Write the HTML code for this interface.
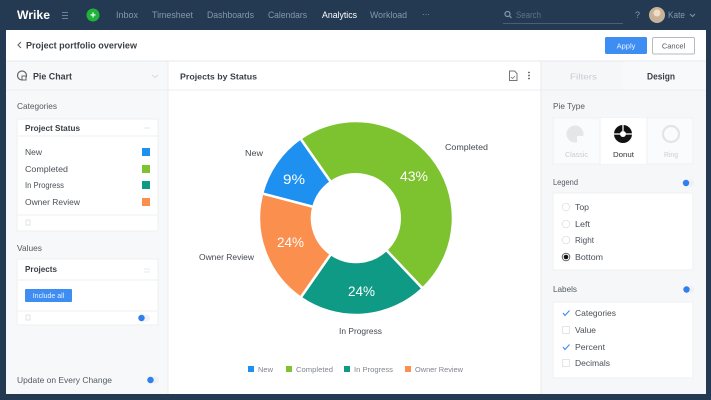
<!DOCTYPE html>
<html><head><meta charset="utf-8"><style>
html,body{margin:0;padding:0;background:#243a52;}
svg{display:block;font-family:"Liberation Sans",sans-serif;}
</style></head><body>
<svg width="711" height="400" viewBox="0 0 711 400" xmlns="http://www.w3.org/2000/svg">
<rect x="0" y="0" width="711" height="400" fill="#243a52"/>
<!-- nav -->
<text x="17" y="19" font-size="11.5" font-weight="bold" fill="#ffffff" textLength="33" lengthAdjust="spacingAndGlyphs">Wrike</text>
<g stroke="#6f8299" stroke-width="1"><line x1="62" y1="12.5" x2="68" y2="12.5"/><line x1="62" y1="15.5" x2="68" y2="15.5"/><line x1="62" y1="18.5" x2="68" y2="18.5"/></g>
<circle cx="93" cy="15" r="6.5" fill="#1fb33a"/>
<text x="93" y="18.5" font-size="10" font-weight="bold" fill="#fff" text-anchor="middle">+</text>
<g font-size="9" fill="#8597ad">
<text x="116" y="18" textLength="22" lengthAdjust="spacingAndGlyphs">Inbox</text>
<text x="152" y="18" textLength="41" lengthAdjust="spacingAndGlyphs">Timesheet</text>
<text x="207" y="18" textLength="47" lengthAdjust="spacingAndGlyphs">Dashboards</text>
<text x="268" y="18" textLength="39" lengthAdjust="spacingAndGlyphs">Calendars</text>
<text x="322" y="18" textLength="35" lengthAdjust="spacingAndGlyphs" fill="#ffffff">Analytics</text>
<text x="370" y="18" textLength="37" lengthAdjust="spacingAndGlyphs">Workload</text>
<text x="422" y="17" textLength="8" lengthAdjust="spacingAndGlyphs">···</text>
<text x="516" y="18" textLength="25" lengthAdjust="spacingAndGlyphs" fill="#5f738b">Search</text>
<text x="635" y="18" fill="#8597ad">?</text>
<text x="668" y="18" textLength="17" lengthAdjust="spacingAndGlyphs">Kate</text>
</g>
<circle cx="507.5" cy="14" r="2.5" fill="none" stroke="#8597ad" stroke-width="1.2"/>
<line x1="509.5" y1="16" x2="511.5" y2="18" stroke="#8597ad" stroke-width="1.2"/>
<line x1="503" y1="23.5" x2="623" y2="23.5" stroke="#4b5f77" stroke-width="1"/>
<circle cx="657" cy="15" r="8" fill="#c9b29a"/>
<circle cx="657" cy="13" r="3.5" fill="#f1dcc8"/>
<path d="M690 14 l2.5 2.5 l2.5 -2.5" fill="none" stroke="#8597ad" stroke-width="1"/>

<!-- main card -->
<rect x="6" y="30" width="700" height="364" fill="#ffffff"/>
<!-- left panel bg -->
<rect x="6" y="61" width="162" height="333" fill="#f6f8fa"/>
<!-- right panel bg -->
<rect x="541" y="61" width="165" height="333" fill="#f5f7f9"/>
<rect x="623" y="61" width="83" height="29" fill="#f8f9fb"/>
<line x1="6" y1="61" x2="706" y2="61" stroke="#e7eaed" stroke-width="1"/>
<line x1="6" y1="90" x2="706" y2="90" stroke="#eceef1" stroke-width="1"/>
<line x1="168" y1="61" x2="168" y2="394" stroke="#eceef1" stroke-width="1"/>
<line x1="541" y1="61" x2="541" y2="394" stroke="#e7eaed" stroke-width="1"/>

<!-- header -->
<path d="M21 42 l-3 3 l3 3" fill="none" stroke="#666" stroke-width="1.1"/>
<text x="26" y="48.5" font-size="9.5" font-weight="bold" fill="#3a3f45" textLength="111" lengthAdjust="spacingAndGlyphs">Project portfolio overview</text>
<rect x="605" y="37" width="42" height="17" rx="1.5" fill="#3e8df3"/>
<text x="626" y="48.5" font-size="7.5" fill="#e8f1ff" text-anchor="middle">Apply</text>
<rect x="652.5" y="37.5" width="42" height="16.5" rx="1.5" fill="#fff" stroke="#b5bbc2" stroke-width="1"/>
<text x="673.5" y="48.5" font-size="7.5" fill="#555" text-anchor="middle">Cancel</text>

<!-- second header -->
<circle cx="22" cy="75.5" r="4.5" fill="none" stroke="#666" stroke-width="1.2"/>
<rect x="22" y="76" width="4" height="4" fill="#f6f8fa" stroke="#666" stroke-width="1"/>
<text x="33" y="79.5" font-size="9.5" font-weight="bold" fill="#3a3f45" textLength="39" lengthAdjust="spacingAndGlyphs">Pie Chart</text>
<path d="M152 75 l3 2.5 l3 -2.5" fill="none" stroke="#d5d9dd" stroke-width="1"/>
<text x="180" y="79.5" font-size="8.5" font-weight="bold" fill="#3a3f45" textLength="77" lengthAdjust="spacingAndGlyphs">Projects by Status</text>
<path d="M509.5 71 h5 l2.5 2.5 v7 h-7.5 z" fill="none" stroke="#777" stroke-width="1"/>
<path d="M511 77 l1.5 1.5 l2.5 -2.5" fill="none" stroke="#777" stroke-width="0.8"/>
<g fill="#555"><circle cx="529" cy="72.5" r="0.9"/><circle cx="529" cy="75.5" r="0.9"/><circle cx="529" cy="78.5" r="0.9"/></g>
<text x="570" y="79.5" font-size="8.5" fill="#c8cdd3" textLength="27" lengthAdjust="spacingAndGlyphs">Filters</text>
<text x="647" y="79.5" font-size="9" font-weight="bold" fill="#3a3f45" textLength="28" lengthAdjust="spacingAndGlyphs">Design</text>

<!-- left panel -->
<g font-size="8.5" fill="#555b62">
<text x="17" y="109" textLength="40" lengthAdjust="spacingAndGlyphs">Categories</text>
<text x="17" y="251" textLength="25" lengthAdjust="spacingAndGlyphs">Values</text>
<text x="17" y="383" textLength="95" lengthAdjust="spacingAndGlyphs">Update on Every Change</text>
</g>
<rect x="17" y="119" width="141" height="112" fill="#ffffff" stroke="#eef0f2" stroke-width="1"/>
<line x1="17" y1="136" x2="158" y2="136" stroke="#eef0f2"/>
<line x1="17" y1="215" x2="158" y2="215" stroke="#eef0f2"/>
<text x="25" y="131" font-size="8.5" font-weight="bold" fill="#3a3f45" textLength="55" lengthAdjust="spacingAndGlyphs">Project Status</text>
<path d="M144 128 h6" stroke="#e3e6e9" stroke-width="1"/>
<g font-size="8.5" fill="#4a5057">
<text x="25" y="155" textLength="17" lengthAdjust="spacingAndGlyphs">New</text>
<text x="25" y="172" textLength="43" lengthAdjust="spacingAndGlyphs">Completed</text>
<text x="25" y="188" textLength="39" lengthAdjust="spacingAndGlyphs">In Progress</text>
<text x="25" y="205" textLength="55" lengthAdjust="spacingAndGlyphs">Owner Review</text>
</g>
<rect x="142" y="148" width="8" height="8" fill="#1e90f0"/>
<rect x="142" y="165" width="8" height="8" fill="#7dc32f"/>
<rect x="142" y="181" width="8" height="8" fill="#0e9a84"/>
<rect x="142" y="198" width="8" height="8" fill="#fb8f4e"/>
<rect x="26" y="220" width="4" height="5" fill="none" stroke="#ddd" stroke-width="0.8"/>

<rect x="17" y="259" width="141" height="66" fill="#ffffff" stroke="#eef0f2" stroke-width="1"/>
<line x1="17" y1="280" x2="158" y2="280" stroke="#eef0f2"/>
<line x1="17" y1="311" x2="158" y2="311" stroke="#eef0f2"/>
<text x="25" y="272" font-size="8.5" font-weight="bold" fill="#3a3f45" textLength="32" lengthAdjust="spacingAndGlyphs">Projects</text>
<path d="M144 269 h6 M144 272 h6" stroke="#e6e8eb" stroke-width="1"/>
<rect x="25" y="289" width="47" height="13" rx="1" fill="#3e8df3"/>
<text x="48.5" y="298" font-size="7" fill="#e8f1ff" text-anchor="middle">Include all</text>
<rect x="26" y="315" width="4" height="5" fill="none" stroke="#ddd" stroke-width="0.8"/>
<rect x="138" y="314.5" width="12" height="7" rx="3.5" fill="#f0f2f4"/>
<circle cx="141.5" cy="318" r="3.2" fill="#2f7ff0"/>
<rect x="147" y="376.5" width="12" height="7" rx="3.5" fill="#eef0f2"/>
<circle cx="150.5" cy="380" r="3.2" fill="#2f7ff0"/>

<!-- right panel -->
<g font-size="8.5" fill="#555b62">
<text x="553" y="109" textLength="32" lengthAdjust="spacingAndGlyphs">Pie Type</text>
<text x="553" y="185" textLength="25" lengthAdjust="spacingAndGlyphs">Legend</text>
<text x="553" y="292" textLength="24" lengthAdjust="spacingAndGlyphs">Labels</text>
</g>
<rect x="553" y="118" width="140" height="46" fill="#fafbfc" stroke="#eef0f2" stroke-width="1"/>
<rect x="600" y="118" width="47" height="46" fill="#ffffff"/>
<line x1="600" y1="118" x2="600" y2="164" stroke="#eef0f2"/>
<line x1="647" y1="118" x2="647" y2="164" stroke="#eef0f2"/>
<circle cx="575" cy="134" r="8.5" fill="#e4e6e9"/>
<path d="M577 136 h7 a8 8 0 0 1 -7 7 z" fill="#fafbfc"/>
<circle cx="623" cy="134" r="9" fill="#111"/>
<circle cx="623" cy="134" r="3" fill="#fff"/>
<path d="M614 134 h18 M623 125 v6" stroke="#fff" stroke-width="1.3"/>
<circle cx="671" cy="134" r="8" fill="none" stroke="#e2e4e7" stroke-width="2.2"/>
<g font-size="7.5">
<text x="565" y="157" fill="#c9cdd2" textLength="23" lengthAdjust="spacingAndGlyphs">Classic</text>
<text x="613" y="157" fill="#333" textLength="21" lengthAdjust="spacingAndGlyphs">Donut</text>
<text x="664" y="157" fill="#c9cdd2" textLength="14" lengthAdjust="spacingAndGlyphs">Ring</text>
</g>
<rect x="683" y="179.5" width="11" height="7" rx="3.5" fill="#eef0f2"/>
<circle cx="686" cy="183" r="3.2" fill="#2f7ff0"/>
<rect x="553" y="193" width="140" height="77" fill="#ffffff" stroke="#eef0f2" stroke-width="1"/>
<g fill="none" stroke="#e3e6e9" stroke-width="1">
<circle cx="566" cy="207" r="3.8"/><circle cx="566" cy="224" r="3.8"/><circle cx="566" cy="240" r="3.8"/>
</g>
<circle cx="566" cy="257" r="3.8" fill="#fff" stroke="#666" stroke-width="1"/>
<circle cx="566" cy="257" r="2.3" fill="#111"/>
<g font-size="8.5" fill="#4a5057">
<text x="575" y="210" textLength="14" lengthAdjust="spacingAndGlyphs">Top</text>
<text x="575" y="227" textLength="15" lengthAdjust="spacingAndGlyphs">Left</text>
<text x="575" y="243" textLength="19" lengthAdjust="spacingAndGlyphs">Right</text>
<text x="575" y="260" textLength="28" lengthAdjust="spacingAndGlyphs">Bottom</text>
</g>
<rect x="684" y="286" width="10" height="7" rx="3.5" fill="#eef0f2"/>
<circle cx="686.5" cy="289.5" r="3.2" fill="#2f7ff0"/>
<rect x="553" y="302" width="140" height="76" fill="#ffffff" stroke="#eef0f2" stroke-width="1"/>
<g fill="none" stroke="#e3e6e9" stroke-width="1">
<rect x="562.5" y="326.5" width="7" height="7"/><rect x="562.5" y="359.5" width="7" height="7"/>
</g>
<path d="M563 313 l2 2.5 l4.5 -5" fill="none" stroke="#3e8df3" stroke-width="1.1"/>
<path d="M563 347 l2 2.5 l4.5 -5" fill="none" stroke="#3e8df3" stroke-width="1.1"/>
<g font-size="8.5" fill="#4a5057">
<text x="575" y="316" textLength="41" lengthAdjust="spacingAndGlyphs">Categories</text>
<text x="575" y="333" textLength="21" lengthAdjust="spacingAndGlyphs">Value</text>
<text x="575" y="350" textLength="30" lengthAdjust="spacingAndGlyphs">Percent</text>
<text x="575" y="366" textLength="35" lengthAdjust="spacingAndGlyphs">Decimals</text>
</g>

<!-- donut -->
<g stroke="#ffffff" stroke-width="2.5" stroke-linejoin="miter">
<path d="M300.4 138.5 A97 97 0 0 1 422.6 288.5 L386.2 250.0 A44 44 0 0 0 330.8 182.0 Z" fill="#7dc32f"/>
<path d="M422.6 288.5 A97 97 0 0 1 300.6 297.6 L330.9 254.1 A44 44 0 0 0 386.2 250.0 Z" fill="#0e9a84"/>
<path d="M300.6 297.6 A97 97 0 0 1 262.2 193.4 L313.4 206.8 A44 44 0 0 0 330.9 254.1 Z" fill="#fb8f4e"/>
<path d="M262.2 193.4 A97 97 0 0 1 300.4 138.5 L330.8 182.0 A44 44 0 0 0 313.4 206.8 Z" fill="#1e90f0"/>
</g>
<g font-size="14" fill="#ffffff">
<text x="283" y="184" textLength="22" lengthAdjust="spacingAndGlyphs">9%</text>
<text x="400" y="181" textLength="28" lengthAdjust="spacingAndGlyphs">43%</text>
<text x="277" y="247" textLength="27" lengthAdjust="spacingAndGlyphs">24%</text>
<text x="348" y="296" textLength="27" lengthAdjust="spacingAndGlyphs">24%</text>
</g>
<g font-size="8.5" fill="#444a50">
<text x="245" y="156" textLength="18" lengthAdjust="spacingAndGlyphs">New</text>
<text x="445" y="150" textLength="43" lengthAdjust="spacingAndGlyphs">Completed</text>
<text x="199" y="260" textLength="55" lengthAdjust="spacingAndGlyphs">Owner Review</text>
<text x="339" y="334" textLength="43" lengthAdjust="spacingAndGlyphs">In Progress</text>
</g>
<!-- legend -->
<rect x="248" y="366" width="6" height="6" fill="#1e90f0"/>
<rect x="286" y="366" width="6" height="6" fill="#7dc32f"/>
<rect x="344" y="366" width="6" height="6" fill="#0e9a84"/>
<rect x="405" y="366" width="6" height="6" fill="#fb8f4e"/>
<g font-size="7.5" fill="#80868d">
<text x="258" y="372" textLength="15" lengthAdjust="spacingAndGlyphs">New</text>
<text x="296" y="372" textLength="37" lengthAdjust="spacingAndGlyphs">Completed</text>
<text x="354" y="372" textLength="39" lengthAdjust="spacingAndGlyphs">In Progress</text>
<text x="415" y="372" textLength="48" lengthAdjust="spacingAndGlyphs">Owner Review</text>
</g>
</svg>
</body></html>
